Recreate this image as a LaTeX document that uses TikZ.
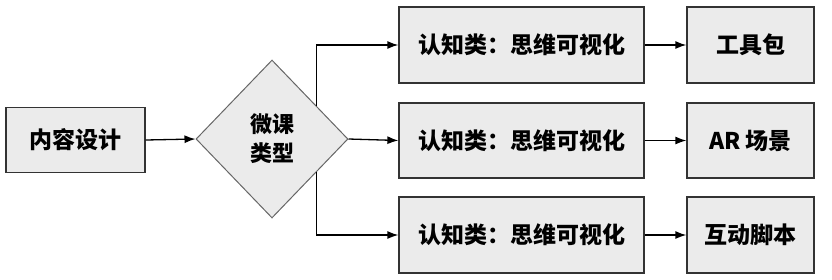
\documentclass[tikz,border=0pt]{standalone}
\usepackage{fontspec}
\setmainfont{Noto Sans CJK SC}
\usetikzlibrary{shapes.geometric,arrows.meta,calc}
\definecolor{boxfill}{HTML}{EBEBEB}
\definecolor{linec}{HTML}{333333}
\begin{document}
\begin{tikzpicture}[x=1pt,y=-1pt,
  box/.style={draw=linec,line width=1.3pt,fill=boxfill,inner sep=0pt,font=\fontsize{23}{26}\selectfont\bfseries},
  conn/.style={draw=black,line width=1.3pt,-{Latex[length=11pt,width=8pt]}}]
\useasboundingbox (0,0) rectangle (832,279);
\node[box,minimum width=139pt,minimum height=65pt] (nr) at (75.5,140) {内容设计};
\node[draw=gray!80!black,line width=1pt,fill=boxfill,diamond,minimum width=152pt,minimum height=158pt,inner sep=0pt,align=center,font=\fontsize{22}{29}\selectfont\bfseries] (wk) at (272,139) {微课\\类型};
\node[box,minimum width=245pt,minimum height=76pt] (c1) at (521.5,45) {认知类：思维可视化};
\node[box,minimum width=245pt,minimum height=75pt] (c2) at (521.5,140.5) {认知类：思维可视化};
\node[box,minimum width=245pt,minimum height=76pt] (c3) at (521.5,235) {认知类：思维可视化};
\node[box,minimum width=127pt,minimum height=76pt] (r1) at (750.5,45) {工具包};
\node[box,minimum width=127pt,minimum height=75pt] (r2) at (750.5,140.5) {AR 场景};
\node[box,minimum width=127pt,minimum height=76pt] (r3) at (750.5,235) {互动脚本};
\coordinate (st) at ($(wk.north)!0.58!(wk.east)$);
\coordinate (sb) at ($(wk.south)!0.58!(wk.east)$);
\draw[conn] (nr.east) -- (wk.west);
\draw[conn] (wk.east) -- (c2.west);
\draw[conn] (st) |- (c1.west);
\draw[conn] (sb) |- (c3.west);
\draw[conn] (c1.east) -- (r1.west);
\draw[conn] (c2.east) -- (r2.west);
\draw[conn] (c3.east) -- (r3.west);
\end{tikzpicture}
\end{document}
